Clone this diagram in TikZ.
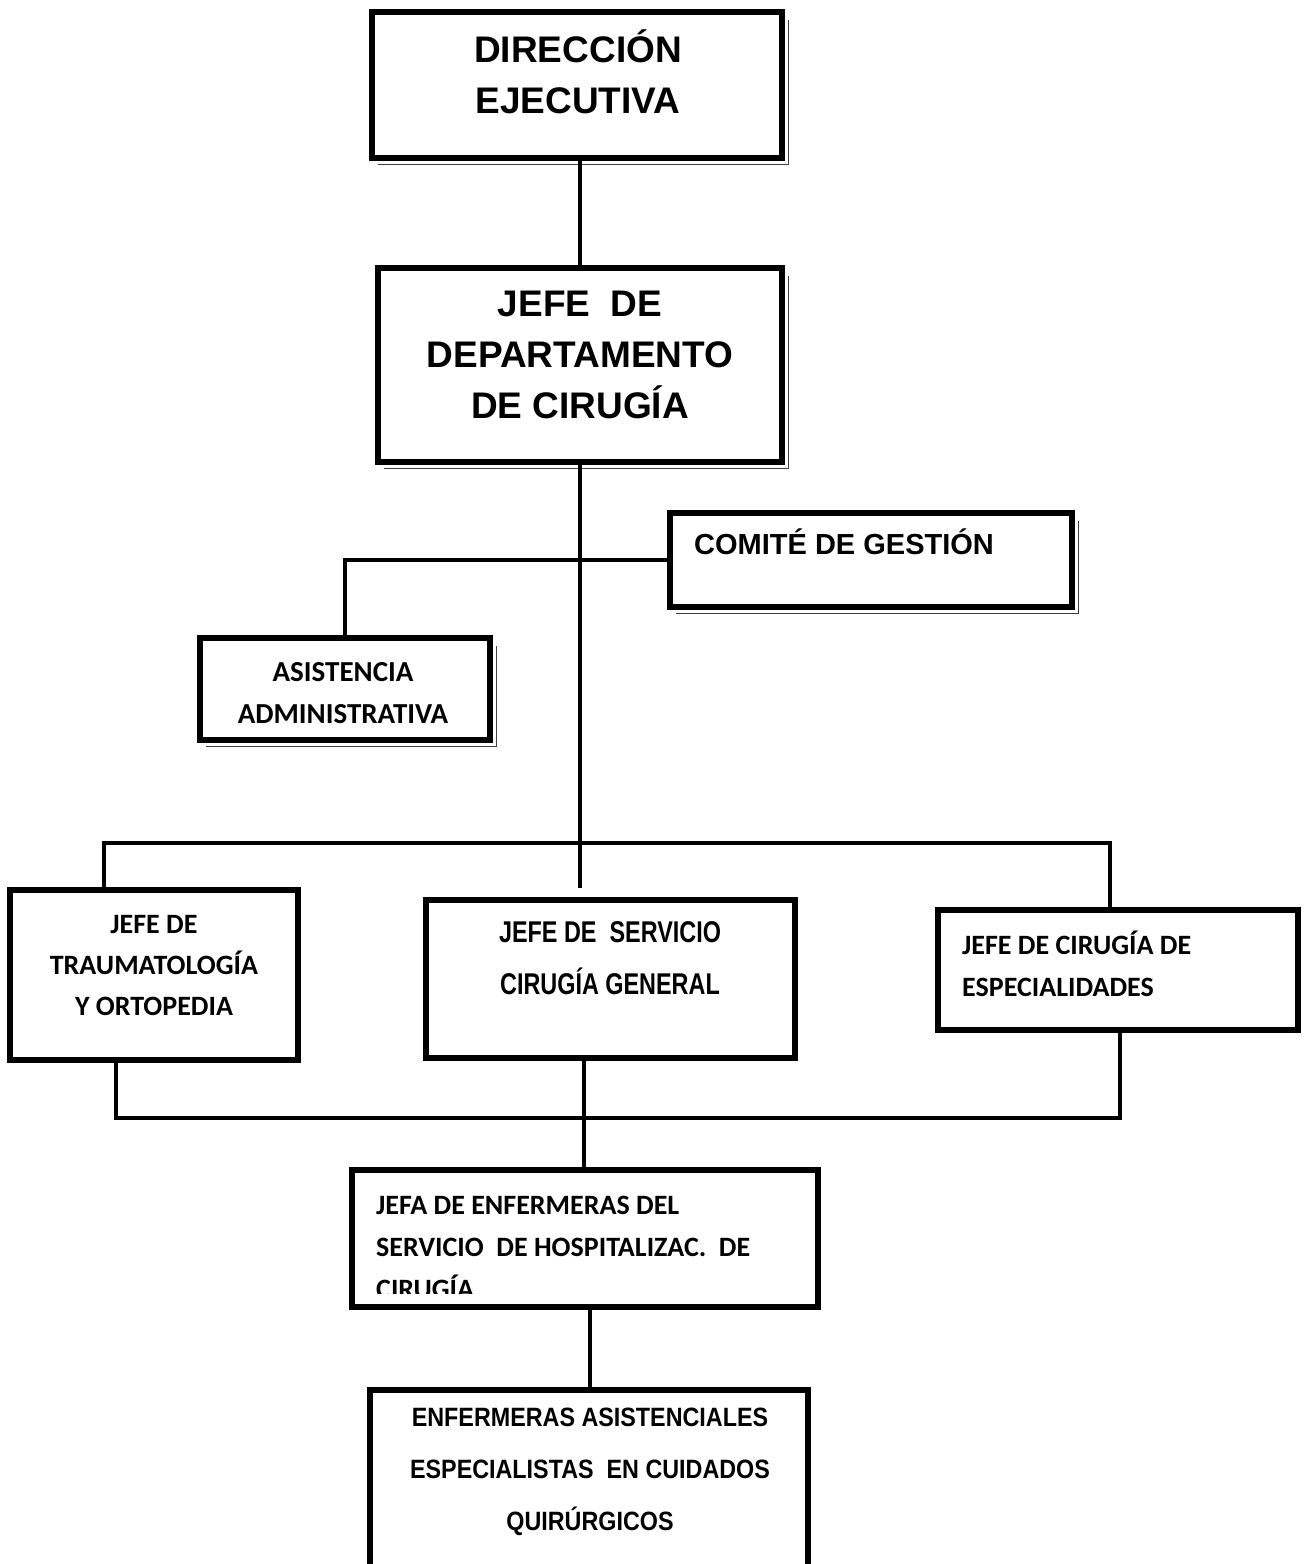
\documentclass[tikz,border=0pt]{standalone}
\usepackage{fontspec}
\setmainfont{Liberation Sans}
\newfontfamily\carl{Carlito}
\newfontfamily\narrowserv[FakeStretch=0.78]{Liberation Sans}
\newfontfamily\narrowenf[FakeStretch=0.88]{Liberation Sans}
\usetikzlibrary{calc}
\begin{document}
\begin{tikzpicture}[x=1pt,y=-1pt,
  box/.style={draw,line width=5.5pt,inner sep=0pt,outer sep=0pt,anchor=north west,fill=white},
  conn/.style={line width=4.5pt},
  shadowline/.style={line width=1pt,black!75},
  bigtxt/.style={font=\bfseries\fontsize{37}{51}\selectfont,align=center,inner sep=0pt},
  midtxt/.style={font=\bfseries\fontsize{29}{40}\selectfont,align=left,inner sep=0pt},
  caltxt/.style={font=\carl\bfseries\fontsize{28}{42}\selectfont,inner sep=0pt},
  enftxt/.style={font=\narrowenf\bfseries\fontsize{26.5}{52}\selectfont,align=center,inner sep=0pt}]
\clip (0,0) rectangle (1304,1564);
\fill[white] (0,0) rectangle (1304,1564);

% boxes
\node[box,minimum width=410pt,minimum height=146pt] (dir) at (372,12) {};
\node[box,minimum width=404pt,minimum height=194pt] (dept) at (378,268) {};
\node[box,minimum width=402pt,minimum height=94pt] (com) at (670,513) {};
\node[box,minimum width=290pt,minimum height=102pt] (asis) at (200,638) {};
\node[box,minimum width=288pt,minimum height=170pt] (trau) at (10,890) {};
\node[box,minimum width=369pt,minimum height=158pt] (serv) at (426,900) {};
\node[box,minimum width=360pt,minimum height=120pt] (esp) at (938,910) {};
\node[box,minimum width=466pt,minimum height=137pt] (jefa) at (352,1170) {};
\node[box,minimum width=438pt,minimum height=250pt] (enf) at (370,1390) {};

% shadows
\foreach \n in {dir,dept,com,asis}{
  \draw[shadowline] ($(\n.north east)+(6,8)$) -- ($(\n.south east)+(6,6)$) -- ($(\n.south west)+(6,6)$);
}

% texts
\node[bigtxt] (tdir) at (578,72) {DIRECCIÓN\\EJECUTIVA};
\node[bigtxt] (tdept) at (580,355) {JEFE\ \ DE\\DEPARTAMENTO\\DE CIRUGÍA};
\node[midtxt,anchor=base west] (tcom) at (694,554) {COMITÉ DE GESTIÓN};
\node[caltxt,align=center,font=\carl\bfseries\fontsize{29}{42}\selectfont] (tasis) at (343,693) {ASISTENCIA\\ADMINISTRATIVA};
\node[caltxt,align=center,font=\carl\bfseries\fontsize{28}{41}\selectfont] (ttrau) at (154,966) {JEFE DE\\TRAUMATOLOGÍA\\Y ORTOPEDIA};
\node[align=center,inner sep=0pt,font=\narrowserv\bfseries\fontsize{30}{52}\selectfont] (tserv) at (610,958) {JEFE DE\ \ SERVICIO\\CIRUGÍA GENERAL};
\node[caltxt,align=left,anchor=west] (tesp) at (962,964) {JEFE DE CIRUGÍA DE\\ESPECIALIDADES};
\begin{scope}
  \clip (352,1170) rectangle (818,1293);
  \node[caltxt,align=left,anchor=west] (tjefa) at (376,1247) {JEFA DE ENFERMERAS DEL\\SERVICIO\ \ DE HOSPITALIZAC.\ \ DE\\CIRUGÍA};
\end{scope}
\draw[line width=5.5pt] (jefa.south west) -- (jefa.south east);
\node[enftxt] (tenf) at (590,1472) {ENFERMERAS ASISTENCIALES\\ESPECIALISTAS\ \ EN CUIDADOS\\QUIRÚRGICOS};

% connectors
\draw[conn] (dir.south -| dept.north) -- (dept.north);
\coordinate (trunkend) at (582,888);
\draw[conn] (dept.south) -- (dept.south |- trunkend);
\draw[conn] (com.west) -- (asis.north |- com.west) -- (asis.north);
\draw[conn] ([xshift=94pt]trau.north west) -- ++(0,-47) -| ([xshift=172pt]esp.north west);
\draw[conn] ([xshift=106pt]trau.south west) -- ++(0,58) -| ([xshift=182pt]esp.south west);
\draw[conn] ([xshift=158pt]serv.south west) -- ([xshift=232pt]jefa.north west);
\draw[conn] ([xshift=238pt]jefa.south west) -- ([xshift=220pt]enf.north west);
\end{tikzpicture}
\end{document}
